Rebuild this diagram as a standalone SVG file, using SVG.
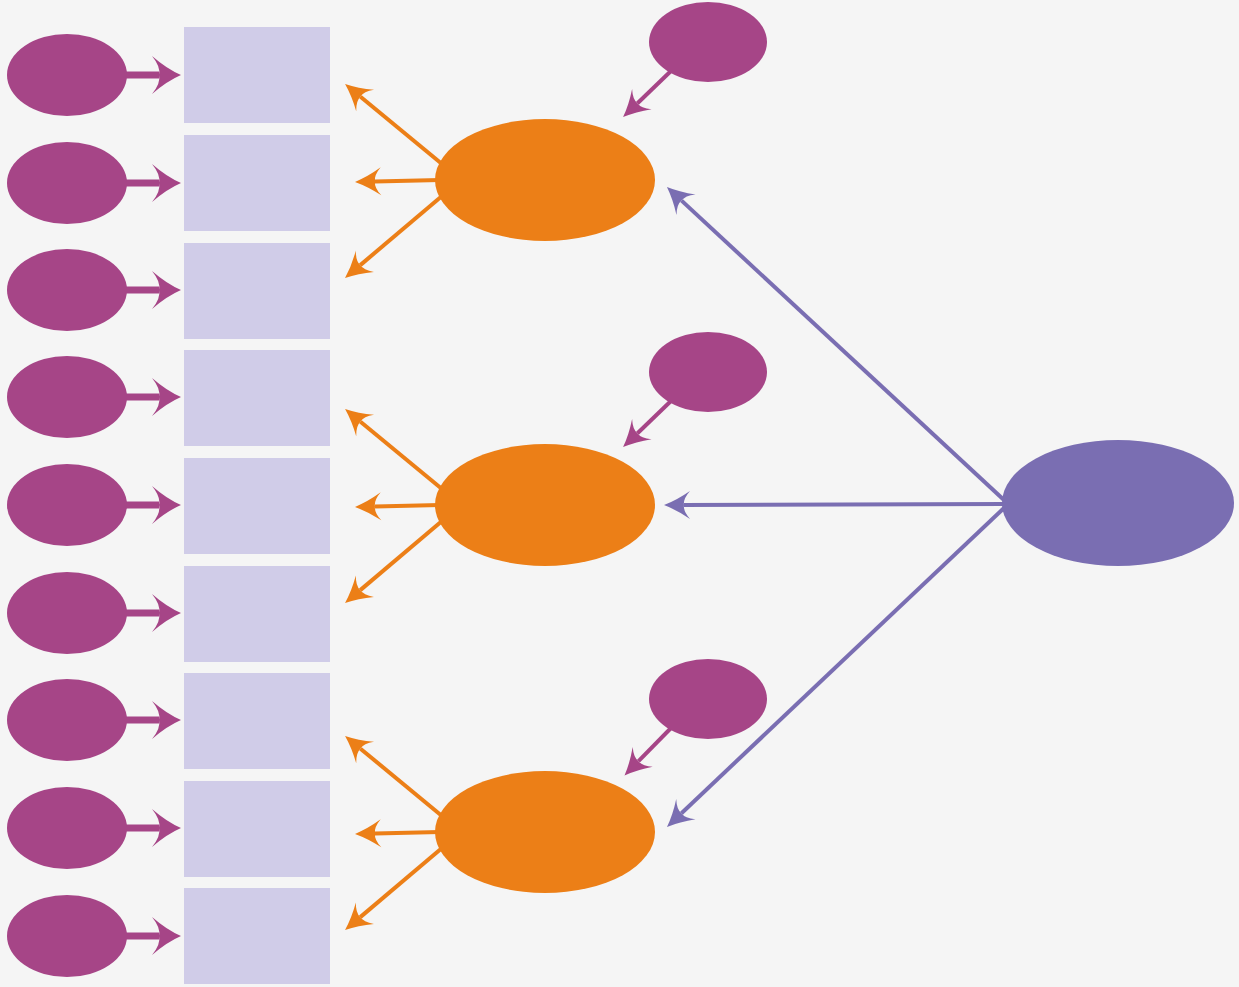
<svg xmlns="http://www.w3.org/2000/svg" width="1239" height="987" viewBox="0 0 1239 987">
<style>
.bg{fill:#F5F5F5}
.err{fill:#A64587}
.box{fill:#D0CCE8}
.lat{fill:#EC7F17}
.top{fill:#7A6EB2}
.cm{stroke:#A64587;stroke-width:7;fill:none}
.cs{stroke:#A64587;stroke-width:4;fill:none}
.co{stroke:#EC7F17;stroke-width:4;fill:none}
.cp{stroke:#7A6EB2;stroke-width:4;fill:none}
</style>
<defs>
<marker id="mBig" markerUnits="userSpaceOnUse" orient="auto" refX="0" refY="0" markerWidth="40" markerHeight="40" style="overflow:visible">
<path d="M22,0 Q8,-6 -7,-19 Q2,-8 0,0 Q2,8 -7,19 Q8,6 22,0 Z" fill="#A64587"/>
</marker>
<marker id="mMag" markerUnits="userSpaceOnUse" orient="auto" refX="0" refY="0" markerWidth="40" markerHeight="40" style="overflow:visible">
<path d="M20,0 Q7,-5 -6,-14 Q1,-6 0,0 Q1,6 -6,14 Q7,5 20,0 Z" fill="#A64587"/>
</marker>
<marker id="mOr" markerUnits="userSpaceOnUse" orient="auto" refX="0" refY="0" markerWidth="40" markerHeight="40" style="overflow:visible">
<path d="M20,0 Q7,-5 -6,-14 Q1,-6 0,0 Q1,6 -6,14 Q7,5 20,0 Z" fill="#EC7F17"/>
</marker>
<marker id="mPu" markerUnits="userSpaceOnUse" orient="auto" refX="0" refY="0" markerWidth="40" markerHeight="40" style="overflow:visible">
<path d="M20,0 Q7,-5 -6,-14 Q1,-6 0,0 Q1,6 -6,14 Q7,5 20,0 Z" fill="#7A6EB2"/>
</marker>
</defs>
<rect class="bg" x="0" y="0" width="1239" height="987"/>
<g id="connectors">
<line class="cm" x1="120" y1="75" x2="159" y2="75" marker-end="url(#mBig)"/>
<line class="cm" x1="120" y1="183" x2="159" y2="183" marker-end="url(#mBig)"/>
<line class="cm" x1="120" y1="290" x2="159" y2="290" marker-end="url(#mBig)"/>
<line class="cm" x1="120" y1="397" x2="159" y2="397" marker-end="url(#mBig)"/>
<line class="cm" x1="120" y1="505" x2="159" y2="505" marker-end="url(#mBig)"/>
<line class="cm" x1="120" y1="613" x2="159" y2="613" marker-end="url(#mBig)"/>
<line class="cm" x1="120" y1="720" x2="159" y2="720" marker-end="url(#mBig)"/>
<line class="cm" x1="120" y1="828" x2="159" y2="828" marker-end="url(#mBig)"/>
<line class="cm" x1="120" y1="936" x2="159" y2="936" marker-end="url(#mBig)"/>
<line class="co" x1="442" y1="164" x2="360.5" y2="96.7" marker-end="url(#mOr)"/>
<line class="co" x1="440" y1="180" x2="375" y2="181.5" marker-end="url(#mOr)"/>
<line class="co" x1="442" y1="196" x2="360.3" y2="265.1" marker-end="url(#mOr)"/>
<line class="co" x1="442" y1="489" x2="360.5" y2="421.7" marker-end="url(#mOr)"/>
<line class="co" x1="440" y1="505" x2="375" y2="506.5" marker-end="url(#mOr)"/>
<line class="co" x1="442" y1="521" x2="360.3" y2="590.1" marker-end="url(#mOr)"/>
<line class="co" x1="442" y1="816" x2="360.5" y2="748.7" marker-end="url(#mOr)"/>
<line class="co" x1="440" y1="832" x2="375" y2="833.5" marker-end="url(#mOr)"/>
<line class="co" x1="442" y1="848" x2="360.3" y2="917.1" marker-end="url(#mOr)"/>
<line class="cs" x1="672" y1="70" x2="637.5" y2="103.2" marker-end="url(#mMag)"/>
<line class="cs" x1="672" y1="400" x2="637.5" y2="433.2" marker-end="url(#mMag)"/>
<line class="cs" x1="672" y1="727" x2="638.5" y2="761.2" marker-end="url(#mMag)"/>
<line class="cp" x1="1004" y1="500" x2="681.6" y2="200.6" marker-end="url(#mPu)"/>
<line class="cp" x1="1004" y1="504" x2="684" y2="505" marker-end="url(#mPu)"/>
<line class="cp" x1="1004" y1="508" x2="681.5" y2="813.2" marker-end="url(#mPu)"/>
</g>
<g id="e1"><ellipse class="err" cx="67" cy="75" rx="60" ry="41"/></g>
<g id="e2"><ellipse class="err" cx="67" cy="183" rx="60" ry="41"/></g>
<g id="e3"><ellipse class="err" cx="67" cy="290" rx="60" ry="41"/></g>
<g id="e4"><ellipse class="err" cx="67" cy="397" rx="60" ry="41"/></g>
<g id="e5"><ellipse class="err" cx="67" cy="505" rx="60" ry="41"/></g>
<g id="e6"><ellipse class="err" cx="67" cy="613" rx="60" ry="41"/></g>
<g id="e7"><ellipse class="err" cx="67" cy="720" rx="60" ry="41"/></g>
<g id="e8"><ellipse class="err" cx="67" cy="828" rx="60" ry="41"/></g>
<g id="e9"><ellipse class="err" cx="67" cy="936" rx="60" ry="41"/></g>
<g id="x1"><rect class="box" x="184" y="27" width="146" height="96"/></g>
<g id="x2"><rect class="box" x="184" y="135" width="146" height="96"/></g>
<g id="x3"><rect class="box" x="184" y="243" width="146" height="96"/></g>
<g id="x4"><rect class="box" x="184" y="350" width="146" height="96"/></g>
<g id="x5"><rect class="box" x="184" y="458" width="146" height="96"/></g>
<g id="x6"><rect class="box" x="184" y="566" width="146" height="96"/></g>
<g id="x7"><rect class="box" x="184" y="673" width="146" height="96"/></g>
<g id="x8"><rect class="box" x="184" y="781" width="146" height="96"/></g>
<g id="x9"><rect class="box" x="184" y="888" width="146" height="96"/></g>
<g id="f1"><ellipse class="lat" cx="545" cy="180" rx="110" ry="61"/></g>
<g id="f2"><ellipse class="lat" cx="545" cy="505" rx="110" ry="61"/></g>
<g id="f3"><ellipse class="lat" cx="545" cy="832" rx="110" ry="61"/></g>
<g id="d1"><ellipse class="err" cx="708" cy="42" rx="59" ry="40"/></g>
<g id="d2"><ellipse class="err" cx="708" cy="372" rx="59" ry="40"/></g>
<g id="d3"><ellipse class="err" cx="708" cy="699" rx="59" ry="40"/></g>
<g id="g"><ellipse class="top" cx="1118" cy="503" rx="116" ry="63"/></g>
</svg>
